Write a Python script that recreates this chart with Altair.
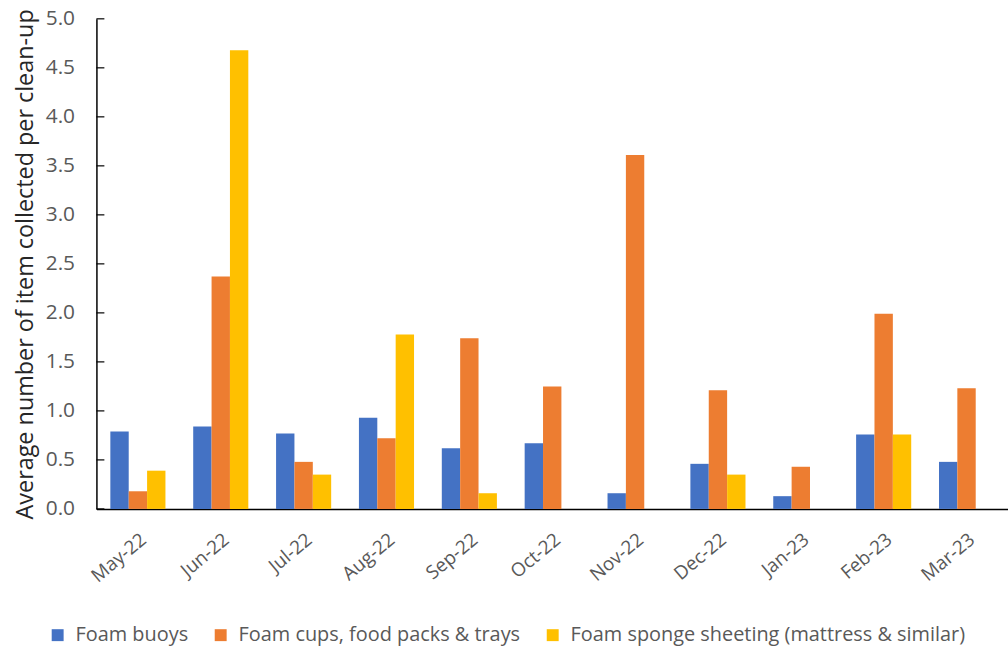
import altair as alt
import pandas as pd

months = ["May-22", "Jun-22", "Jul-22", "Aug-22", "Sep-22", "Oct-22",
          "Nov-22", "Dec-22", "Jan-23", "Feb-23", "Mar-23"]
series = ["Foam buoys", "Foam cups, food packs & trays",
          "Foam sponge sheeting (mattress & similar)"]
buoys = [0.79, 0.84, 0.77, 0.93, 0.62, 0.67, 0.16, 0.46, 0.13, 0.76, 0.48]
cups = [0.18, 2.37, 0.48, 0.72, 1.74, 1.25, 3.61, 1.21, 0.43, 1.99, 1.23]
sponge = [0.39, 4.68, 0.35, 1.78, 0.16, 0.0, 0.0, 0.35, 0.0, 0.76, 0.0]
colors = ["#4472C4", "#ED7D31", "#FFC000"]
y_ticks = [0, 0.5, 1, 1.5, 2, 2.5, 3, 3.5, 4, 4.5, 5]

rows = []
for name, vals in zip(series, [buoys, cups, sponge]):
    for m, v in zip(months, vals):
        rows.append({"month": m, "item": name, "value": v})
df = pd.DataFrame(rows)
ticks_df = pd.DataFrame({"value": y_ticks})

FONT = "Open Sans"
y_scale = alt.Scale(domain=[0, 5])

bars = alt.Chart(df).mark_bar().encode(
    x=alt.X("month:N", sort=months, title=None,
            scale=alt.Scale(paddingInner=0.335, paddingOuter=0.168),
            axis=alt.Axis(labelAngle=-40, labelFontSize=19, labelColor="#595959",
                          labelFont=FONT, ticks=False, domainColor="#000000",
                          domainWidth=1.5, labelPadding=21)),
    xOffset=alt.XOffset("item:N", sort=series, scale=alt.Scale(domain=series)),
    y=alt.Y("value:Q", title="Average number of item collected per clean-up",
            scale=y_scale,
            axis=alt.Axis(values=y_ticks, format=".1f", grid=False,
                          labelFontSize=21, labelColor="#595959", labelFont=FONT,
                          ticks=False, domainColor="#000000", domainWidth=1.5,
                          labelPadding=22,
                          titleFont=FONT, titleFontSize=23.5, titleFontWeight="normal",
                          titleColor="#262626", titlePadding=8)),
    color=alt.Color("item:N", sort=series,
                    scale=alt.Scale(domain=series, range=colors),
                    legend=alt.Legend(title=None, orient="none", direction="horizontal",
                                      legendX=-49, legendY=610,
                                      symbolType="square", symbolSize=144,
                                      symbolStrokeWidth=0, labelOffset=8,
                                      labelFont=FONT, labelFontSize=20,
                                      labelColor="#595959", columnPadding=22,
                                      labelLimit=600)),
)

# short tick marks drawn on the inner side of the value axis
inner_ticks = alt.Chart(ticks_df).mark_rule(color="#000000", strokeWidth=1.2).encode(
    y=alt.Y("value:Q", scale=y_scale),
    x=alt.value(0),
    x2=alt.value(8),
)

chart = alt.layer(bars, inner_ticks).properties(
    width=917, height=493,
    autosize=alt.AutoSizeParams(type="none"),
    padding={"left": 97, "top": 17, "right": 0, "bottom": 142},
).configure_view(stroke=None)

chart.save("out.html", embed_options={"renderer": "svg", "actions": False})
